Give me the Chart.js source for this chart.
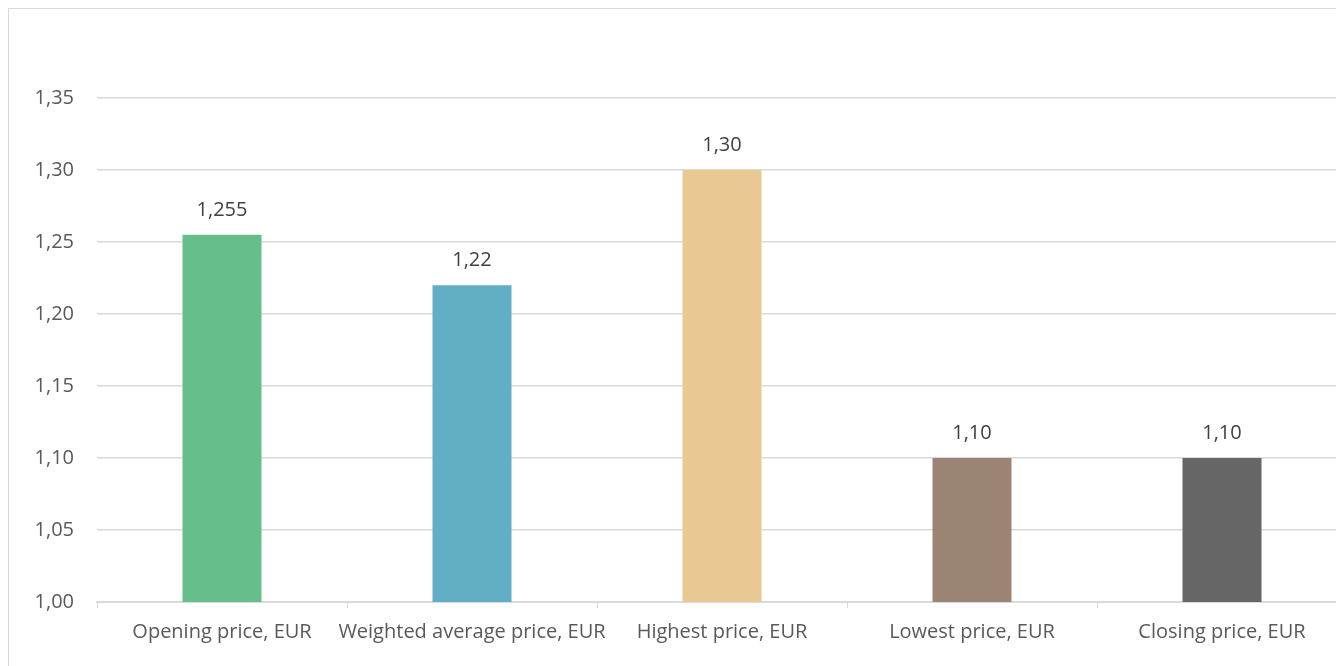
<!DOCTYPE html>
<html>
<head>
<meta charset="utf-8">
<script src="https://cdn.jsdelivr.net/npm/chart.js@4"></script>
<style>
  html, body { margin: 0; padding: 0; background: #fff; overflow: hidden; }
  #frame { position: absolute; left: 8px; top: 8px; width: 1400px; height: 700px; border: 1px solid #d9d9d9; }
  #wrap { position: absolute; left: 0; top: 0; width: 1350px; height: 666px; }
</style>
</head>
<body>
<div id="frame"></div>
<div id="wrap"><canvas id="priceChart"></canvas></div>
<script>
const categories = ['Opening price, EUR', 'Weighted average price, EUR', 'Highest price, EUR', 'Lowest price, EUR', 'Closing price, EUR'];
const prices = [1.255, 1.22, 1.30, 1.10, 1.10];
const barColors = ['#66bf8a', '#62aec5', '#e8c994', '#9c8475', '#666666'];
const yTicks = [1.00, 1.05, 1.10, 1.15, 1.20, 1.25, 1.30, 1.35];

const fmt = v => v.toLocaleString('de-DE', { minimumFractionDigits: 2, maximumFractionDigits: 3 });

// value labels above each bar
const valueLabels = {
    id: 'valueLabels',
    afterDatasetsDraw(chart) {
        const ctx = chart.ctx;
        const meta = chart.getDatasetMeta(0);
        ctx.save();
        ctx.font = '20px "Open Sans"';
        ctx.fillStyle = '#404040';
        ctx.textAlign = 'center';
        ctx.textBaseline = 'middle';
        meta.data.forEach((bar, i) => {
            ctx.fillText(fmt(prices[i]), bar.x, bar.y - 25);
        });
        ctx.restore();
    }
};

const ctxPrice = document.getElementById('priceChart').getContext('2d');
const priceChart = new Chart(ctxPrice, {
    type: 'bar',
    data: {
        labels: categories,
        datasets: [{
            data: prices,
            backgroundColor: barColors,
            barPercentage: 0.316,
            categoryPercentage: 1,
        }]
    },
    options: {
        responsive: true,
        maintainAspectRatio: false,
        animation: false,
        layout: { padding: { top: 98, right: 3, left: 0, bottom: 0 } },
        plugins: {
            legend: { display: false },
            tooltip: { enabled: false }
        },
        scales: {
            x: {
                grid: {
                    offset: true,
                    drawOnChartArea: false,
                    color: '#d9d9d9',
                    tickLength: 6,
                    lineWidth: 1
                },
                border: { color: '#d9d9d9', width: 2 },
                ticks: {
                    color: '#595959',
                    font: { family: 'Open Sans', size: 20 },
                    padding: 12,
                    maxRotation: 0,
                    autoSkip: false
                },
                afterFit(scale) { scale.height = 64; }
            },
            y: {
                min: 1.00,
                max: 1.35,
                afterBuildTicks(scale) { scale.ticks = yTicks.map(v => ({ value: v })); },
                grid: { color: '#d9d9d9', drawTicks: false, lineWidth: 1.5 },
                border: { display: false },
                ticks: {
                    color: '#595959',
                    font: { family: 'Open Sans', size: 20 },
                    padding: 23,
                    callback: v => v.toFixed(2).replace('.', ',')
                },
                afterFit(scale) { scale.width = 97; }
            }
        }
    },
    plugins: [valueLabels]
});
</script>
</body>
</html>
